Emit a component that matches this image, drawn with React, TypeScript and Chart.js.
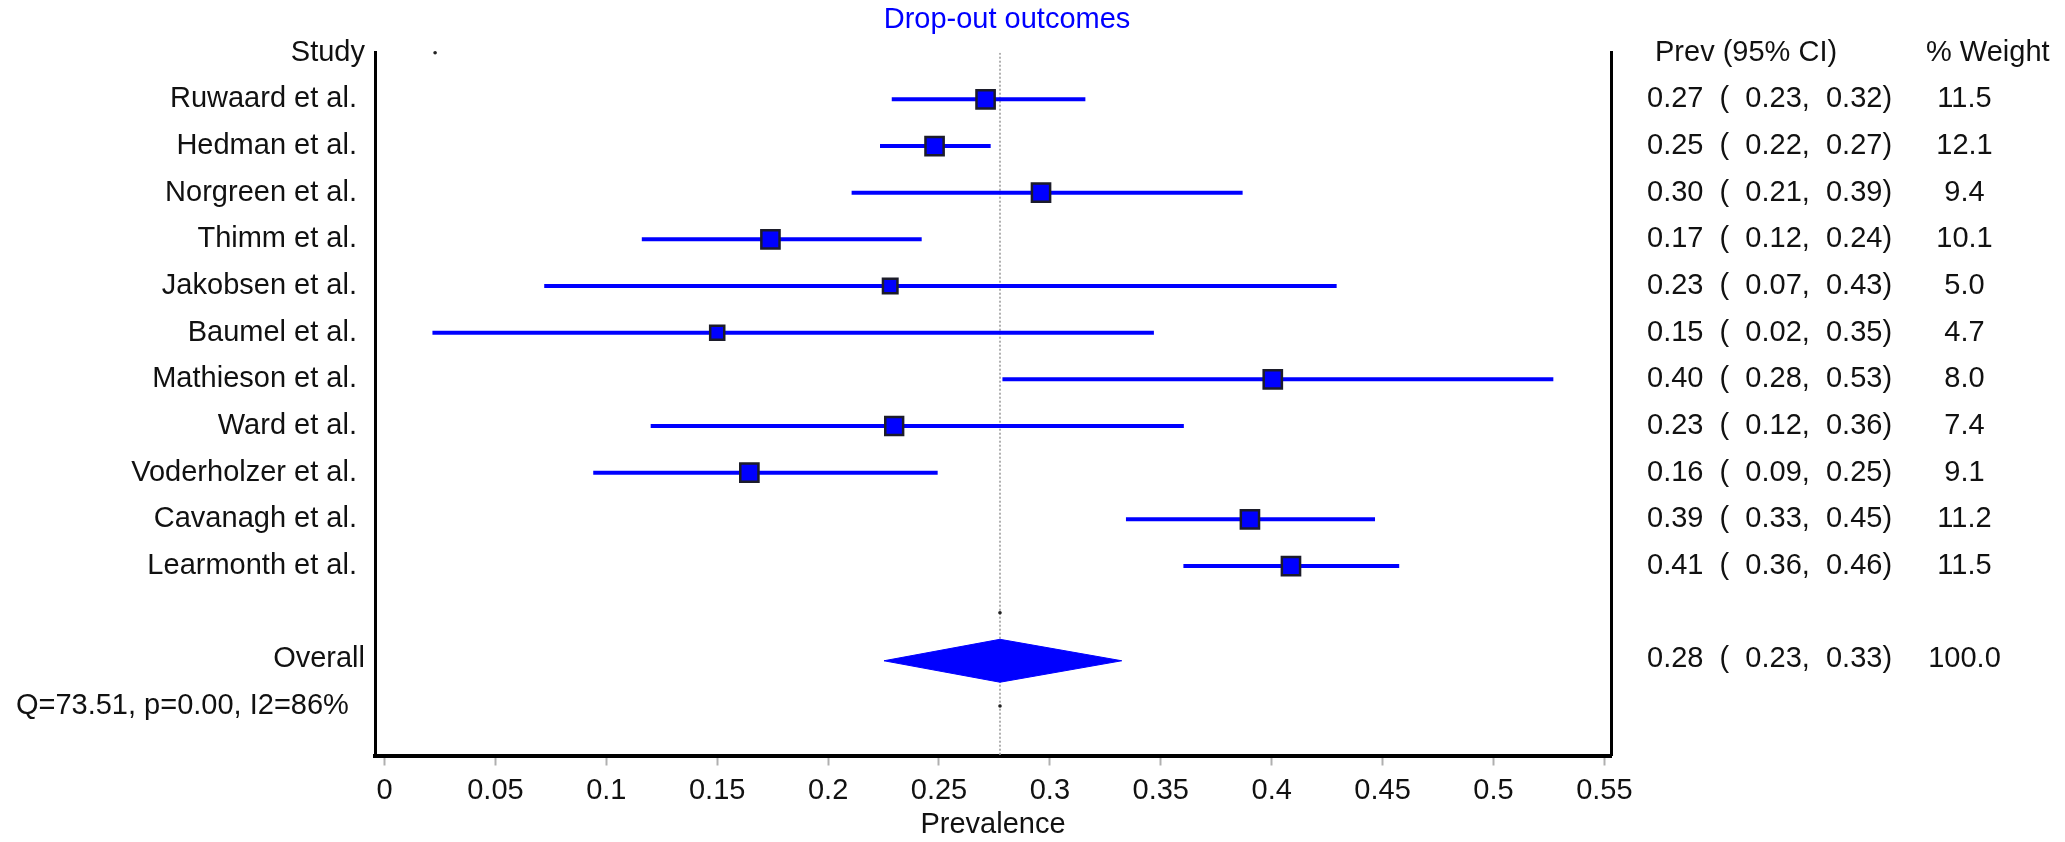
import React, { useEffect, useRef } from 'react';
import { Chart, registerables } from 'chart.js';

Chart.register(...registerables);

// ---------------- data ----------------
const chartTitle = 'Drop-out outcomes';
const axisTitle = 'Prevalence';
const headerStudy = 'Study';
const headerPrev = 'Prev (95% CI)';
const headerWeight = '% Weight';

const studies = [
  'Ruwaard et al.',
  'Hedman et al.',
  'Norgreen et al.',
  'Thimm et al.',
  'Jakobsen et al.',
  'Baumel et al.',
  'Mathieson et al.',
  'Ward et al.',
  'Voderholzer et al.',
  'Cavanagh et al.',
  'Learmonth et al.',
];
const prevalence = [0.271, 0.248, 0.296, 0.174, 0.228, 0.150, 0.4005, 0.2298, 0.1645, 0.3902, 0.4087];
const ciLower = [0.2287, 0.2234, 0.2106, 0.116, 0.072, 0.0216, 0.2786, 0.120, 0.0941, 0.3343, 0.3602];
const ciUpper = [0.316, 0.2733, 0.3869, 0.2422, 0.4293, 0.3469, 0.527, 0.3604, 0.2494, 0.4466, 0.4575];
const weights = [11.5, 12.1, 9.4, 10.1, 5.0, 4.7, 8.0, 7.4, 9.1, 11.2, 11.5];

const overallLabel = 'Overall';
const overallPrev = 0.2775;
const overallLower = 0.2252;
const overallUpper = 0.3324;
const overallWeight = 100.0;

const statQ = '73.51';
const statP = '0.00';
const statI2 = '86%';

const xTicks = [0, 0.05, 0.1, 0.15, 0.2, 0.25, 0.3, 0.35, 0.4, 0.45, 0.5, 0.55];
const xTickLabels = ['0', '0.05', '0.1', '0.15', '0.2', '0.25', '0.3', '0.35', '0.4', '0.45', '0.5', '0.55'];
const xMin = -0.0043;
const xMax = 0.553;

// tiny reference dots drawn by the original software
const markerX = [0.0228, overallPrev, overallPrev];
const markerRows = [0, 12, 14];

// ---------------- helpers ----------------
const FONT = "'Liberation Sans', Arial, sans-serif";
const FONT_SIZE = 29;
const BLUE = '#0000ff';
const TEXT = '#111111';

const ciText = (e: number, l: number, u: number) =>
  `${e.toFixed(2)}  (  ${l.toFixed(2)},  ${u.toFixed(2)})`;

export default function App() {
  const ref = useRef<HTMLCanvasElement>(null);

  useEffect(() => {
    document.body.style.margin = '0';
    const canvas = ref.current;
    if (!canvas) return;

    const OVERALL_ROW = studies.length + 2; // 13
    const STATS_ROW = OVERALL_ROW + 1; // 14
    const Y_MAX = STATS_ROW + 1.06;
    const statsText = `Q=${statQ}, p=${statP}, I2=${statI2}`;

    const rowLabels: string[] = [];
    rowLabels[0] = headerStudy;
    studies.forEach((s, i) => (rowLabels[i + 1] = s + ' '));
    rowLabels[studies.length + 1] = '';
    rowLabels[OVERALL_ROW] = overallLabel;
    rowLabels[STATS_ROW] = statsText + '  ';

    const squareRadius = weights.map((w) => {
      const outer = Math.min(20.7, 10 + 1.4 * w);
      return (outer - 2.5) / Math.SQRT2;
    });

    const diamondH = 0.46;
    const diamondRow = OVERALL_ROW + 0.03;

    const datasets: any[] = [];
    datasets.push({
      label: 'estimates',
      data: prevalence.map((p, i) => ({ x: p, y: i + 1 })),
      showLine: false,
      pointStyle: 'rect',
      pointRadius: squareRadius,
      pointBackgroundColor: BLUE,
      pointBorderColor: '#1c1c2a',
      pointBorderWidth: 2.5,
    });
    datasets.push({
      label: 'markers',
      data: markerX.map((x, i) => ({ x, y: markerRows[i] })),
      showLine: false,
      pointStyle: 'circle',
      pointRadius: 1.8,
      pointBackgroundColor: '#222',
      pointBorderWidth: 0,
      clip: false,
    });
    studies.forEach((s, i) => {
      datasets.push({
        label: s + ' CI',
        data: [
          { x: ciLower[i], y: i + 1 },
          { x: ciUpper[i], y: i + 1 },
        ],
        showLine: true,
        borderColor: BLUE,
        borderWidth: 4,
        pointRadius: 0,
      });
    });
    datasets.push({
      label: 'overall',
      data: [
        { x: overallLower, y: diamondRow },
        { x: overallPrev, y: diamondRow - diamondH },
        { x: overallUpper, y: diamondRow },
        { x: overallPrev, y: diamondRow + diamondH },
        { x: overallLower, y: diamondRow },
      ],
      showLine: true,
      fill: 'shape',
      backgroundColor: BLUE,
      borderColor: BLUE,
      borderWidth: 1,
      pointRadius: 0,
      tension: 0,
    });
    datasets.push({
      label: 'ref',
      data: [
        { x: overallPrev, y: 0 },
        { x: overallPrev, y: Y_MAX },
      ],
      showLine: true,
      borderColor: '#b0b0b0',
      borderWidth: 2,
      borderDash: [2, 2],
      pointRadius: 0,
    });

    const textPlugin = {
      id: 'forestText',
      afterDraw(chart: any) {
        const { ctx, chartArea, scales } = chart;
        const ys = scales.y;
        ctx.save();
        ctx.font = `${FONT_SIZE}px ${FONT}`;
        ctx.textBaseline = 'middle';
        ctx.fillStyle = TEXT;
        const ciX = chartArea.right + 36;
        const wC = chartArea.right + 353.5;
        const y0 = ys.getPixelForValue(0);
        ctx.textAlign = 'left';
        ctx.fillText(headerPrev, chartArea.right + 44, y0);
        ctx.fillText(headerWeight, chartArea.right + 315, y0);
        studies.forEach((s, i) => {
          const y = ys.getPixelForValue(i + 1);
          ctx.textAlign = 'left';
          ctx.fillText(ciText(prevalence[i], ciLower[i], ciUpper[i]), ciX, y);
          ctx.textAlign = 'center';
          ctx.fillText(weights[i].toFixed(1), wC, y);
        });
        const yo = ys.getPixelForValue(OVERALL_ROW);
        ctx.textAlign = 'left';
        ctx.fillText(ciText(overallPrev, overallLower, overallUpper), ciX, yo);
        ctx.textAlign = 'center';
        ctx.fillText(overallWeight.toFixed(1), wC, yo);

        ctx.fillStyle = BLUE;
        ctx.textAlign = 'center';
        ctx.fillText(chartTitle, (chartArea.left + chartArea.right) / 2 + 14, 20);
        ctx.restore();
      },
    };

    const chart = new Chart(canvas, {
      type: 'scatter',
      data: { datasets },
      plugins: [textPlugin],
      options: {
        responsive: false,
        animation: false,
        events: [],
        layout: { padding: { top: 52.7, left: 0, right: 0, bottom: 0 } },
        plugins: {
          legend: { display: false },
          tooltip: { enabled: false },
          title: { display: false },
        },
        scales: {
          x: {
            type: 'linear',
            position: 'bottom',
            min: xMin,
            max: xMax,
            bounds: 'data',
            afterBuildTicks: (scale: any) => {
              scale.ticks = xTicks.map((v) => ({ value: v }));
            },
            afterFit: (scale: any) => {
              scale.height = 842 - 755.5;
              scale.paddingLeft = 0;
              scale.paddingRight = 0;
            },
            ticks: {
              autoSkip: false,
              maxRotation: 0,
              padding: 8,
              color: TEXT,
              font: { family: FONT, size: FONT_SIZE },
              callback: (_v: any, i: number) => xTickLabels[i],
            },
            grid: {
              display: true,
              drawOnChartArea: false,
              drawTicks: true,
              tickLength: 10,
              tickColor: '#b0b0b0',
              tickWidth: 2,
            },
            border: { display: true, color: '#000', width: 4 },
            title: {
              display: true,
              text: axisTitle,
              color: TEXT,
              font: { family: FONT, size: FONT_SIZE },
              padding: { top: 0, bottom: 0 },
            },
          },
          y: {
            type: 'linear',
            position: 'left',
            min: 0,
            max: Y_MAX,
            reverse: true,
            bounds: 'data',
            afterBuildTicks: (scale: any) => {
              scale.ticks = rowLabels.map((_l, i) => ({ value: i }));
            },
            afterFit: (scale: any) => {
              scale.width = 375;
              scale.paddingTop = 0;
              scale.paddingBottom = 0;
            },
            ticks: {
              autoSkip: false,
              padding: 10,
              color: TEXT,
              font: { family: FONT, size: FONT_SIZE },
              callback: (v: any) => rowLabels[Math.round(Number(v))] ?? '',
            },
            grid: { display: false, drawTicks: false },
            border: { display: true, color: '#000', width: 3 },
          },
          y2: {
            type: 'linear',
            position: 'right',
            min: 0,
            max: Y_MAX,
            reverse: true,
            bounds: 'data',
            afterFit: (scale: any) => {
              scale.width = 2065 - 1611;
              scale.paddingTop = 0;
              scale.paddingBottom = 0;
            },
            ticks: { display: false },
            grid: { display: false, drawTicks: false },
            border: { display: true, color: '#000', width: 3 },
          },
        },
      } as any,
    });

    return () => chart.destroy();
  }, []);

  return <canvas ref={ref} width={2065} height={842} style={{ display: 'block' }} />;
}
